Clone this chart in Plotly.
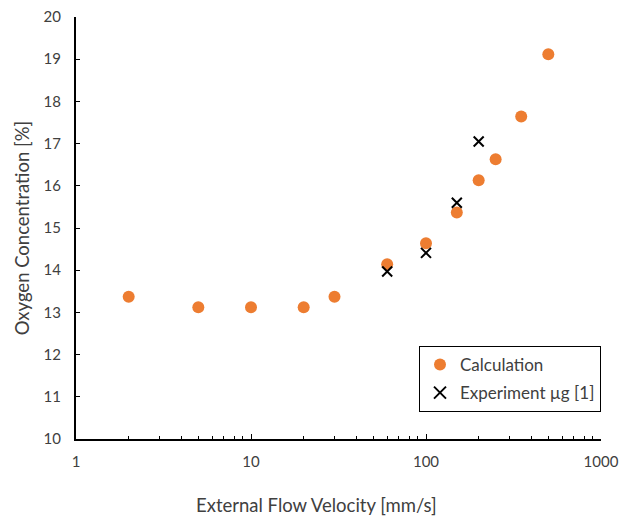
import plotly.graph_objects as go

calc_x = [2, 5, 10, 20, 30, 60, 100, 150, 200, 250, 350, 500]
calc_y = [13.37, 13.12, 13.12, 13.12, 13.37, 14.14, 14.64, 15.37, 16.13, 16.63, 17.64, 19.12]
exp_x = [60, 100, 150, 200]
exp_y = [13.97, 14.41, 15.60, 17.05]

x_title = "External Flow Velocity [mm/s]"
y_title = "Oxygen Concentration [%]"

FONT = "Lato"
TXT = "#404040"

fig = go.Figure()
fig.add_trace(go.Scatter(x=calc_x, y=calc_y, mode="markers", name="Calculation",
                         legendgroup="a",
                         marker=dict(color="#ED7D31", size=12, line=dict(width=0))))
fig.add_trace(go.Scatter(x=exp_x, y=exp_y, mode="markers", name="Experiment µg [1]",
                         legendgroup="b",
                         marker=dict(symbol="x-thin", size=10, color="black",
                                     line=dict(color="black", width=2))))

minor_vals = [m * d for d in (1, 10, 100) for m in range(2, 10)]

fig.update_layout(
    width=632, height=516,
    margin=dict(l=76, r=31, t=17, b=77),
    plot_bgcolor="white", paper_bgcolor="white",
    font=dict(family=FONT, size=15, color=TXT),
    showlegend=True,
    legend=dict(x=1, xanchor="right", y=0.2204, yanchor="top",
                bordercolor="black", borderwidth=1, bgcolor="white",
                font=dict(family=FONT, size=17, color=TXT),
                tracegroupgap=3, itemsizing="constant"),
    xaxis=dict(type="log", range=[0, 3], showgrid=False, zeroline=False,
               automargin=False,
               showline=True, linecolor="black", linewidth=2,
               ticks="inside", ticklen=5, tickwidth=1, tickcolor="black",
               tickvals=[1, 10, 100, 1000], ticktext=["1", "10", "100", "1000"],
               minor=dict(tickvals=minor_vals, ticks="inside", ticklen=3,
                          tickwidth=1, tickcolor="black", showgrid=False),
               ticklabelstandoff=8),
    yaxis=dict(range=[10, 20], dtick=1, showgrid=False, zeroline=False,
               automargin=False,
               showline=True, linecolor="black", linewidth=2,
               ticks="inside", ticklen=4, tickwidth=1, tickcolor="black",
               ticklabelstandoff=10,
               title=dict(text=y_title, standoff=9,
                          font=dict(family=FONT, size=18.5, color=TXT))),
    annotations=[dict(text=x_title, xref="paper", yref="paper",
                      x=(316 - 76) / 525, y=(439 - 505) / 422,
                      xanchor="center", yanchor="middle", showarrow=False,
                      font=dict(family=FONT, size=18.5, color=TXT))],
)

fig.write_html("out.html")
